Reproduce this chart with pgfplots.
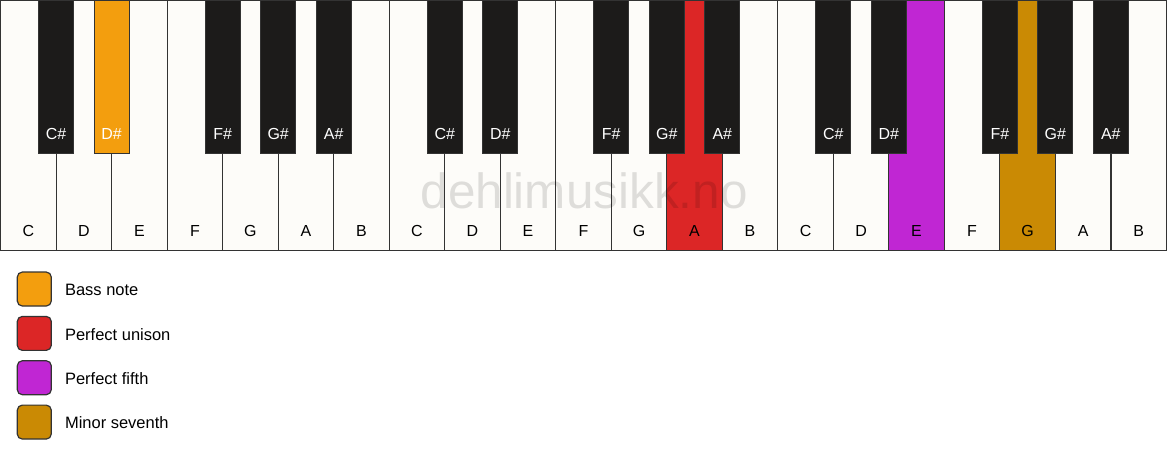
\documentclass[border=0pt]{standalone}
\usepackage{pgfplots}
\usepackage{pgfplotstable}
\pgfplotsset{compat=1.18}
\usepackage{fontspec}
\setmainfont{Liberation Sans}

\definecolor{keywhite}{HTML}{FDFCF9}
\definecolor{keyblack}{HTML}{1C1B1A}
\definecolor{keyline}{HTML}{333333}
\definecolor{bass}{HTML}{F39E0E}
\definecolor{unison}{HTML}{DC2626}
\definecolor{fifth}{HTML}{C026D3}
\definecolor{seventh}{HTML}{CA8A04}

% x in white-key units, y in pixels from the top
\pgfplotstableread{
x    y     lab
0.5  230.3 C
1.5  230.3 D
2.5  230.3 E
3.5  230.3 F
4.5  230.3 G
5.5  230.3 A
6.5  230.3 B
7.5  230.3 C
8.5  230.3 D
9.5  230.3 E
10.5 230.3 F
11.5 230.3 G
12.5 230.3 A
13.5 230.3 B
14.5 230.3 C
15.5 230.3 D
16.5 230.3 E
17.5 230.3 F
18.5 230.3 G
19.5 230.3 A
20.5 230.3 B
}\whitekeys

\pgfplotstableread{
x  y     lab
1  133.5 C
2  133.5 D
4  133.5 F
5  133.5 G
6  133.5 A
8  133.5 C
9  133.5 D
11 133.5 F
12 133.5 G
13 133.5 A
15 133.5 C
16 133.5 D
18 133.5 F
19 133.5 G
20 133.5 A
}\blackkeys

\pgfplotstableread{
x     y     lab
1.157 289.5 {Bass note}
1.157 333.9 {Perfect unison}
1.157 378.3 {Perfect fifth}
1.157 422.7 {Minor seventh}
}\legendrows

\pgfplotsset{
  key/.style={ybar, bar shift=0pt, draw=keyline, line width=1.3pt},
  lab/.style={draw=none, mark=none, point meta=explicit symbolic,
    nodes near coords, nodes near coords align={anchor=#1},
    every node near coord/.append style={inner sep=0pt,
      font=\fontsize{16}{19}\selectfont}},
  swatch/.style={draw=keyline, line width=1.2pt, rounded corners=5pt},
}

\begin{document}
\begin{tikzpicture}
\begin{axis}[
  width=1167pt, height=461pt, scale only axis,
  xmin=0, xmax=21, ymin=0, ymax=461, y dir=reverse,
  hide axis, clip=false,
]
% background
\addplot[draw=none, fill=white] coordinates {(0,0)(21,0)(21,461)(0,461)} -- cycle;

% white keys
\addplot[key, bar width=1, fill=keywhite] table[x=x, y expr=250] {\whitekeys};

% watermark (sits under the coloured keys)
\addplot[lab=center, every node near coord/.append style={text=black, text opacity=0.12,
  font=\fontsize{49.5}{58}\selectfont}]
  coordinates {(10.51,190.5) [dehlimusikk.no]};

\addplot[key, bar width=1, fill=unison]  coordinates {(12.5,250)};
\addplot[key, bar width=1, fill=fifth]   coordinates {(16.5,250)};
\addplot[key, bar width=1, fill=seventh] coordinates {(18.5,250)};

% black keys
\addplot[ybar, bar shift=0pt, bar width=0.63, draw=keyline, line width=0.8pt, fill=keyblack]
  table[x=x, y expr=153] {\blackkeys};
\addplot[key, bar width=0.63, fill=bass] coordinates {(2,153)};

% key names
\addplot[lab=center, every node near coord/.append style={text=black}]
  table[x=x, y=y, meta=lab] {\whitekeys};
\addplot[lab=center, every node near coord/.append style={text=white},
  nodes near coords={\pgfplotspointmeta\#}]
  table[x=x, y=y, meta=lab] {\blackkeys};

% legend
\addplot[swatch, fill=bass]    coordinates {(0.30,271.7)(0.912,271.7)(0.912,305.7)(0.30,305.7)} -- cycle;
\addplot[swatch, fill=unison]  coordinates {(0.30,316.1)(0.912,316.1)(0.912,350.1)(0.30,350.1)} -- cycle;
\addplot[swatch, fill=fifth]   coordinates {(0.30,360.5)(0.912,360.5)(0.912,394.5)(0.30,394.5)} -- cycle;
\addplot[swatch, fill=seventh] coordinates {(0.30,404.9)(0.912,404.9)(0.912,438.9)(0.30,438.9)} -- cycle;
\addplot[lab=west, every node near coord/.append style={text=black,
  font=\fontsize{16.5}{19}\selectfont}]
  table[x=x, y=y, meta=lab] {\legendrows};
\end{axis}
\end{tikzpicture}
\end{document}
